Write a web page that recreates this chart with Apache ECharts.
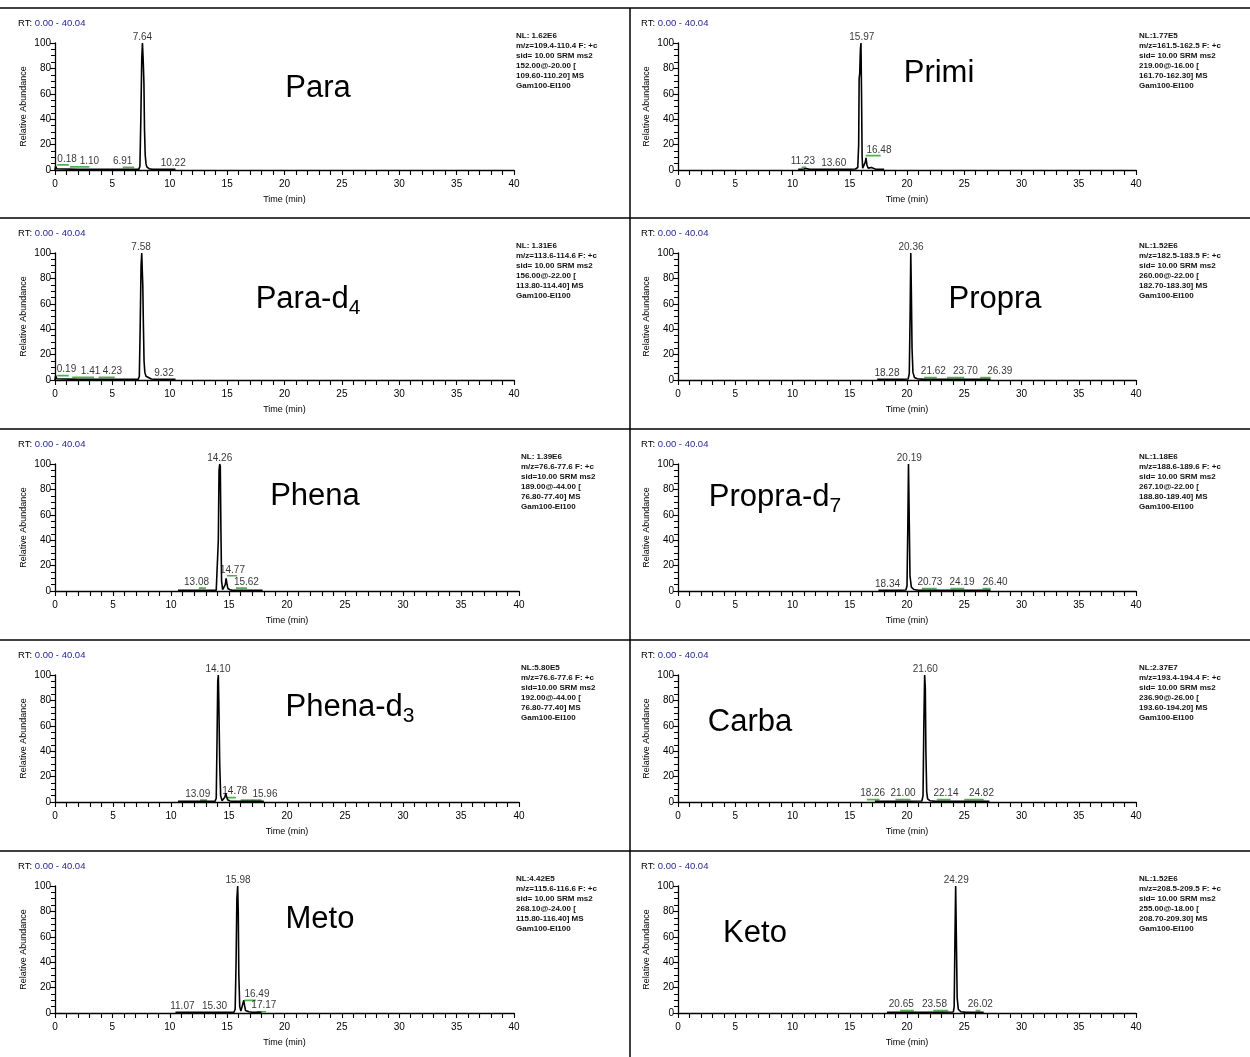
<!DOCTYPE html>
<html><head><meta charset="utf-8">
<script src="https://cdn.jsdelivr.net/npm/echarts@6/dist/echarts.min.js"></script>
<style>html,body{margin:0;padding:0;background:#fff}#c{width:1250px;height:1057px}</style>
</head><body><div id="c"></div>
<script>
// ---------- DATA ----------
const panelTitles = ['Para','Para-d{s|4}','Phena','Phena-d{s|3}','Meto','Primi','Propra','Propra-d{s|7}','Carba','Keto'];

const nlPara   = ['NL: 1.62E6','m/z=109.4-110.4 F: +c','sid= 10.00 SRM ms2','152.00@-20.00 [','109.60-110.20] MS','Gam100-EI100'];
const nlParaD4 = ['NL: 1.31E6','m/z=113.6-114.6 F: +c','sid= 10.00 SRM ms2','156.00@-22.00 [','113.80-114.40] MS','Gam100-EI100'];
const nlPhena  = ['NL: 1.39E6','m/z=76.6-77.6 F: +c','sid=10.00 SRM ms2','189.00@-44.00 [','76.80-77.40] MS','Gam100-EI100'];
const nlPhenaD3= ['NL:5.80E5','m/z=76.6-77.6 F: +c','sid=10.00 SRM ms2','192.00@-44.00 [','76.80-77.40] MS','Gam100-EI100'];
const nlMeto   = ['NL:4.42E5','m/z=115.6-116.6 F: +c','sid= 10.00 SRM ms2','268.10@-24.00 [','115.80-116.40] MS','Gam100-EI100'];
const nlPrimi  = ['NL:1.77E5','m/z=161.5-162.5 F: +c','sid= 10.00 SRM ms2','219.00@-16.00 [','161.70-162.30] MS','Gam100-EI100'];
const nlPropra = ['NL:1.52E6','m/z=182.5-183.5 F: +c','sid= 10.00 SRM ms2','260.00@-22.00 [','182.70-183.30] MS','Gam100-EI100'];
const nlPropraD7=['NL:1.18E6','m/z=188.6-189.6 F: +c','sid= 10.00 SRM ms2','267.10@-22.00 [','188.80-189.40] MS','Gam100-EI100'];
const nlCarba  = ['NL:2.37E7','m/z=193.4-194.4 F: +c','sid= 10.00 SRM ms2','236.90@-26.00 [','193.60-194.20] MS','Gam100-EI100'];
const nlKeto   = ['NL:1.52E6','m/z=208.5-209.5 F: +c','sid= 10.00 SRM ms2','255.00@-18.00 [','208.70-209.30] MS','Gam100-EI100'];

// traces [time (min), relative abundance]
const trPara = [[0,0],[0.05,3],[0.15,1],[0.3,0.5],[2,0.5],[4,0.5],[6,0.5],[7.3,0.5],[7.4,3],[7.48,40],[7.56,88],[7.62,100],[7.67,90],[7.71,80],[7.75,68],[7.8,32],[7.86,12],[7.93,5],[8.0,2.5],[8.2,1],[8.5,0.5],[9.5,0.5],[10.5,0.5]];
const trParaD4 = [[0,0],[0.05,3.5],[0.15,1],[0.3,0.5],[2,0.5],[4,0.5],[6,0.5],[7.25,0.5],[7.35,3],[7.42,40],[7.5,90],[7.56,100],[7.6,88],[7.65,75],[7.7,45],[7.76,15],[7.83,6],[7.93,3],[8.1,1.5],[8.4,0.8],[9,0.5],[10.5,0.5]];
const trPhena = [[10.6,0.5],[12,0.5],[13.9,0.6],[14.0,2],[14.08,40],[14.14,95],[14.2,100],[14.25,98],[14.3,50],[14.36,8],[14.45,1],[14.6,0.8],[14.68,5],[14.75,10],[14.82,6],[14.9,2],[15.0,3],[15.08,1],[15.3,0.5],[17.9,0.5]];
const trPhenaD3 = [[10.6,0.5],[12,0.5],[13.8,0.6],[13.9,3],[13.97,50],[14.03,95],[14.08,100],[14.13,75],[14.2,30],[14.28,5],[14.4,1],[14.55,1],[14.65,4],[14.72,7],[14.8,4],[14.9,1.5],[15.0,2],[15.1,0.8],[15.4,0.5],[18,0.5]];
const trMeto = [[10.5,0.5],[12,0.5],[15.6,0.6],[15.7,3],[15.78,40],[15.85,90],[15.92,100],[15.97,80],[16.02,30],[16.1,5],[16.2,1.5],[16.35,3],[16.45,10],[16.52,6],[16.6,2],[16.75,2.5],[16.9,1],[17.2,0.6],[18,0.5]];
const trPrimi = [[10.5,0.5],[11,0.8],[11.2,1.2],[11.5,0.5],[13,0.5],[15,0.6],[15.5,0.8],[15.7,2],[15.78,20],[15.82,72],[15.87,76],[15.93,95],[15.98,100],[16.03,60],[16.08,10],[16.13,1.5],[16.25,1.5],[16.35,6],[16.42,9.5],[16.5,4],[16.6,1.5],[16.68,3],[16.75,1],[16.9,2],[17.0,0.8],[17.3,0.5],[18,0.5]];
const trPropra = [[17.4,0.5],[19,0.5],[20.1,0.8],[20.2,5],[20.27,50],[20.33,100],[20.38,70],[20.44,25],[20.52,6],[20.65,2],[20.9,1],[21.5,0.5],[24,0.5],[27.3,0.5]];
const trPropraD7 = [[17.5,0.5],[19,0.5],[19.9,0.8],[20.0,4],[20.07,50],[20.13,100],[20.19,60],[20.26,12],[20.38,3],[20.6,1.2],[21,0.6],[24,0.5],[27.3,0.5]];
const trCarba = [[17.2,0.5],[19,0.5],[21.3,0.8],[21.4,5],[21.47,60],[21.54,100],[21.6,90],[21.65,40],[21.72,8],[21.8,2.5],[22,1],[22.5,0.5],[25,0.5],[27.2,0.5]];
const trKeto = [[18.25,0.5],[20,0.5],[22,0.5],[24.05,0.8],[24.12,5],[24.19,60],[24.25,100],[24.31,60],[24.38,12],[24.48,3],[24.7,1],[25.2,0.5],[26.7,0.5]];

// peak labels [x position (min), y (%), text]
const lbPara = [[7.62,100,'7.64'],[1.05,4,'0.18'],[3.0,2.5,'1.10'],[5.9,2.5,'6.91'],[10.3,0.8,'10.22']];
const lbParaD4 = [[7.5,100,'7.58'],[1.0,4,'0.19'],[3.1,2,'1.41'],[5.0,2,'4.23'],[9.5,0.8,'9.32']];
const lbPhena = [[14.2,100,'14.26'],[12.2,2.3,'13.08'],[15.3,12,'14.77'],[16.5,2.3,'15.62']];
const lbPhenaD3 = [[14.05,100,'14.10'],[12.3,1.5,'13.09'],[15.5,4,'14.78'],[18.1,1.5,'15.96']];
const lbMeto = [[15.95,100,'15.98'],[11.1,0.8,'11.07'],[13.9,0.8,'15.30'],[17.6,10,'16.49'],[18.2,1,'17.17']];
const lbPrimi = [[16.05,100,'15.97'],[10.9,2,'11.23'],[13.6,0.8,'13.60'],[17.55,11,'16.48']];
const lbPropra = [[20.35,100,'20.36'],[18.25,0.8,'18.28'],[22.3,1.8,'21.62'],[25.1,1.8,'23.70'],[28.1,1.8,'26.39']];
const lbPropraD7 = [[20.2,100,'20.19'],[18.3,0.8,'18.34'],[22.0,1.8,'20.73'],[24.8,1.8,'24.19'],[27.7,1.8,'26.40']];
const lbCarba = [[21.6,100,'21.60'],[17.0,1.8,'18.26'],[19.65,1.8,'21.00'],[23.4,1.8,'22.14'],[26.5,1.8,'24.82']];
const lbKeto = [[24.3,100,'24.29'],[19.5,1.8,'20.65'],[22.4,1.8,'23.58'],[26.4,1.8,'26.02']];

// green baseline marks [x1, x2, y]
const gnPara = [[0.2,1.2,4],[1.3,3.0,2.5],[5.9,6.9,2]];
const gnParaD4 = [[0.2,1.2,3.5],[1.5,3.4,2],[3.8,5.2,2]];
const gnPhena = [[12.4,13.0,2.3],[14.83,15.7,12],[15.6,16.55,2.3]];
const gnPhenaD3 = [[12.5,13.1,1.5],[14.8,15.6,3.5],[16.0,17.8,1.5]];
const gnMeto = [[16.5,17.5,10],[17.6,18.4,1]];
const gnPrimi = [[10.8,11.2,2],[16.4,17.7,11.3]];
const gnPropra = [[21.5,22.6,1.8],[23.5,25.0,1.8],[26.4,27.3,1.8]];
const gnPropraD7 = [[21.3,22.6,1.8],[23.8,25.0,1.8],[26.6,27.3,1.8]];
const gnCarba = [[16.5,17.6,1.8],[19.0,20.3,1.8],[22.6,23.8,1.8],[25.0,26.7,1.8]];
const gnKeto = [[19.4,20.6,1.8],[22.3,23.6,1.8],[26.0,26.4,1.8]];

// ---------- LAYOUT ----------
const traces = [trPara,trParaD4,trPhena,trPhenaD3,trMeto,trPrimi,trPropra,trPropraD7,trCarba,trKeto];
const labels = [lbPara,lbParaD4,lbPhena,lbPhenaD3,lbMeto,lbPrimi,lbPropra,lbPropraD7,lbCarba,lbKeto];
const greens = [gnPara,gnParaD4,gnPhena,gnPhenaD3,gnMeto,gnPrimi,gnPropra,gnPropraD7,gnCarba,gnKeto];
const nls = [nlPara,nlParaD4,nlPhena,nlPhenaD3,nlMeto,nlPrimi,nlPropra,nlPropraD7,nlCarba,nlKeto];
const rowTop = [8,218,429,640,851];
const gridLeft = [55,55,55,55,55,678,678,678,678,678];
const gridWidth = [459,459,464,464,459,458,458,458,458,458];
const titlePos = [[318,88],[308,299],[315,496],[350,707],[320,919],[939,73],[995,299],[775,497],[750,722],[755,933]];

const FONT = '"Liberation Sans", Arial, sans-serif';
const grids=[], xAxes=[], yAxes=[], series=[], graphics=[];

for (let i=0;i<10;i++){
  const col = i<5?0:1, row = i%5;
  const top = rowTop[row]+35;
  grids.push({left:gridLeft[i], top:top, width:gridWidth[i], height:127});
  xAxes.push({type:'value', gridIndex:i, min:0, max:40, interval:5,
    axisLine:{onZero:false, lineStyle:{color:'#000', width:1.3}},
    axisTick:{show:true, length:5, lineStyle:{color:'#000', width:1.1}},
    minorTick:{show:true, splitNumber:5, length:5, lineStyle:{color:'#000', width:1.1}},
    splitLine:{show:false},
    axisLabel:{fontSize:10, color:'#000', margin:9, fontFamily:FONT},
    name:'Time (min)', nameLocation:'middle', nameGap:25,
    nameTextStyle:{fontSize:9, color:'#000', fontFamily:FONT}});
  yAxes.push({type:'value', gridIndex:i, min:0, max:100, interval:20,
    axisLine:{show:true, lineStyle:{color:'#000', width:1.3}},
    axisTick:{show:true, length:5, lineStyle:{color:'#000', width:1.1}},
    minorTick:{show:true, splitNumber:4, length:4, lineStyle:{color:'#000', width:1}},
    splitLine:{show:false},
    axisLabel:{fontSize:10, color:'#000', margin:4, fontFamily:FONT},
    name:'Relative Abundance', nameLocation:'middle', nameGap:27, nameRotate:90,
    nameTextStyle:{fontSize:9, color:'#000', fontFamily:FONT}});
  series.push({type:'line', xAxisIndex:i, yAxisIndex:i, data:traces[i], showSymbol:false, symbol:'none',
    lineStyle:{color:'#000', width:1.6}, animation:false, z:3});
  greens[i].forEach(g=>{
    series.push({type:'line', xAxisIndex:i, yAxisIndex:i, data:[[g[0],g[2]],[g[1],g[2]]], symbol:'none',
      lineStyle:{color:'#4cb34c', width:1.7}, animation:false, z:2});
  });
  series.push({type:'scatter', xAxisIndex:i, yAxisIndex:i, symbolSize:0, animation:false,
    data:labels[i].map(l=>({value:[l[0],l[1]], name:l[2]})),
    label:{show:true, position:'top', distance:1, formatter:p=>p.name, fontSize:10, color:'#000', fontFamily:FONT}, z:4});

  graphics.push({type:'text', x: col?641:18, y: rowTop[row]+10, style:{text:'{a|RT: }{b|0.00 - 40.04}',
    rich:{a:{fontSize:9.5, fill:'#000', fontFamily:FONT}, b:{fontSize:9.5, fill:'#1f1fa8', fontFamily:FONT}}}});
  graphics.push({type:'text', x: (col?1139:(gridLeft[i]+gridWidth[i]+2)), y: rowTop[row]+23,
    style:{text: nls[i].join('\n'), fontSize:8, fontWeight:'bold', lineHeight:10, fill:'#111', fontFamily:FONT}});
  graphics.push({type:'text', x: titlePos[i][0], y: titlePos[i][1], style:{
    text:'{m|'+panelTitles[i].replace(/\{s\|(\d)\}/,'}{s|$1')+'}',
    align:'center', verticalAlign:'middle',
    rich:{m:{fontSize:31, fill:'#000', fontFamily:FONT, lineHeight:36}, s:{fontSize:21, fill:'#000', fontFamily:FONT, padding:[18,0,0,0], lineHeight:36}}}});
}
const bl = {stroke:'#000', lineWidth:1.5};
[8,218,429,640,851].forEach(y=>graphics.push({type:'line', shape:{x1:0,y1:y,x2:1250,y2:y}, style:bl}));
graphics.push({type:'line', shape:{x1:630,y1:8,x2:630,y2:1057}, style:bl});

const chart = echarts.init(document.getElementById('c'));
chart.setOption({animation:false, backgroundColor:'#fff', grid:grids, xAxis:xAxes, yAxis:yAxes, series:series, graphic:graphics});
</script></body></html>
